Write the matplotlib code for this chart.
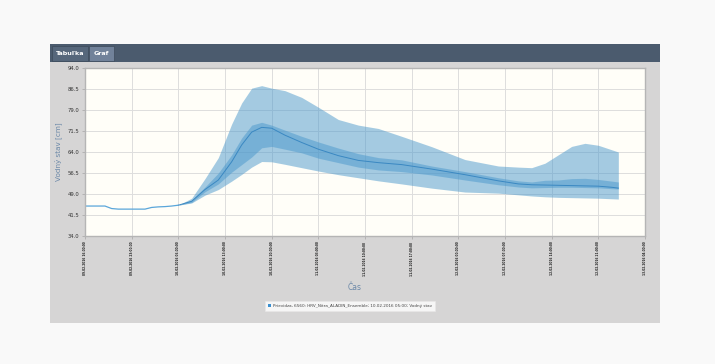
import numpy as np
import matplotlib.pyplot as plt
from matplotlib.patches import Rectangle, Patch

# ---------------------------------------------------------
# Data (hours from 09.02.2016 16:00)
# ---------------------------------------------------------
obs_hours = [0, 1, 2, 3, 4, 5, 6, 7, 8, 9, 10, 11, 12, 13, 14]
obs_level = [44.7, 44.7, 44.7, 44.7, 43.8, 43.6, 43.6, 43.6, 43.6, 43.6, 44.2, 44.4, 44.5, 44.7, 45.0]

fc_hours = [14, 16, 18, 20, 22, 23.5, 25, 26.5, 28, 30, 32.5, 35, 38, 41, 44, 47.5,
            52, 57, 62, 65, 67, 69, 71, 73, 75, 77, 79, 80]
fc_max = [45.0, 47.5, 54.5, 62.0, 74.0, 81.5, 86.8, 87.7, 86.8, 85.9, 83.5, 80.0, 75.6, 73.6,
          72.4, 69.6, 65.9, 61.3, 59.0, 58.6, 58.4, 60.0, 63.0, 66.0, 67.1, 66.4, 64.8, 64.0]
fc_q75 = [45.0, 46.8, 51.5, 56.5, 63.0, 69.0, 73.6, 74.6, 73.6, 71.8, 69.6, 67.6, 65.4, 63.4,
          62.0, 61.2, 59.0, 57.0, 54.8, 53.7, 53.3, 53.9, 54.0, 54.5, 54.6, 54.2, 53.6, 53.3]
fc_med = [45.0, 46.4, 50.6, 54.0, 60.5, 66.5, 71.1, 72.8, 72.5, 70.0, 67.4, 65.0, 62.7, 61.0,
          60.2, 59.5, 57.9, 55.9, 53.7, 52.6, 52.3, 52.2, 52.1, 52.0, 51.9, 51.8, 51.4, 51.1]
fc_q25 = [45.0, 46.0, 49.8, 52.6, 56.8, 59.5, 62.2, 65.5, 66.0, 65.0, 63.7, 61.8, 60.2, 58.6,
          57.6, 57.0, 55.8, 54.0, 52.3, 51.5, 51.2, 51.3, 51.4, 51.4, 51.3, 51.2, 50.9, 50.8]
fc_min = [45.0, 45.8, 48.6, 50.6, 53.6, 56.0, 58.6, 60.6, 60.5, 59.6, 58.4, 57.2, 55.9, 54.8,
          53.7, 52.6, 51.1, 49.7, 49.3, 48.7, 48.3, 48.0, 47.8, 47.7, 47.6, 47.5, 47.3, 47.2]

tick_hours = [0, 7, 14, 21, 28, 35, 42, 49, 56, 63, 70, 77, 84]
tick_labels = ['09.02.2016 16:00:00', '09.02.2016 23:00:00', '10.02.2016 06:00:00',
               '10.02.2016 13:00:00', '10.02.2016 20:00:00', '11.02.2016 03:00:00',
               '11.02.2016 10:00:00', '11.02.2016 17:00:00', '12.02.2016 00:00:00',
               '12.02.2016 07:00:00', '12.02.2016 14:00:00', '12.02.2016 21:00:00',
               '13.02.2016 04:00:00']
y_ticks = [34.0, 41.5, 49.0, 56.5, 64.0, 71.5, 79.0, 86.5, 94.0]

legend_text = 'Prievidza, 6560: HRV_Nitra_ALADIN_Ensemble; 10.02.2016 05:00; Vodný stav'

# ---------------------------------------------------------
# Page frame
# ---------------------------------------------------------
fig = plt.figure(figsize=(7.15, 3.64), dpi=100)
fig.patch.set_facecolor('#f9f9f9')

# gray panel + dark header with tabs
fig.add_artist(Rectangle((50 / 715, 1 - 323 / 364), 610 / 715, 279 / 364,
                         transform=fig.transFigure, facecolor='#d6d5d5', edgecolor='none', zorder=0))
fig.add_artist(Rectangle((50 / 715, 1 - 62 / 364), 610 / 715, 18 / 364,
                         transform=fig.transFigure, facecolor='#4b5b6e', edgecolor='none', zorder=1))
fig.add_artist(Rectangle((52 / 715, 1 - 61 / 364), 36 / 715, 15 / 364,
                         transform=fig.transFigure, facecolor='#56677b', edgecolor='#3d4b5b',
                         linewidth=0.5, zorder=2))
fig.add_artist(Rectangle((89 / 715, 1 - 61 / 364), 25 / 715, 15 / 364,
                         transform=fig.transFigure, facecolor='#71829a', edgecolor='#3d4b5b',
                         linewidth=0.5, zorder=2))
fig.text(70 / 715, 1 - 53.5 / 364, 'Tabuľka', color='white', fontsize=4.6, ha='center', va='center',
         fontweight='bold', zorder=3)
fig.text(101.5 / 715, 1 - 53.5 / 364, 'Graf', color='white', fontsize=4.6, ha='center', va='center',
         fontweight='bold', zorder=3)

# ---------------------------------------------------------
# Chart
# ---------------------------------------------------------
ax = fig.add_axes([85 / 715, 1 - 236 / 364, 560 / 715, 168 / 364])
ax.set_facecolor('#fffef8')

band_color = '#4a98cc'
ax.fill_between(fc_hours, fc_min, fc_max, color=band_color, alpha=0.5, linewidth=0)
ax.fill_between(fc_hours, fc_q25, fc_q75, color=band_color, alpha=0.5, linewidth=0)
ax.plot(fc_hours, fc_med, color='#3a88c2', linewidth=0.7)
ax.plot(obs_hours, obs_level, color='#5aa6da', linewidth=0.9)

ax.set_xlim(0, 84)
ax.set_ylim(34, 94)
ax.set_xticks(tick_hours)
ax.set_xticklabels(tick_labels, rotation=90, fontsize=2.1, color='#222222', fontweight='bold')
ax.set_yticks(y_ticks)
ax.set_yticklabels([f'{v:.1f}' for v in y_ticks], fontsize=3.8, color='#333333')
ax.tick_params(axis='both', length=2, width=0.4, color='#999999', pad=2)
ax.grid(True, color='#dddddd', linewidth=0.7)
ax.set_axisbelow(True)
for side in ['top', 'right', 'bottom', 'left']:
    ax.spines[side].set_color('#b5b5b5')
    ax.spines[side].set_linewidth(1.0)

ax.set_ylabel('Vodný stav [cm]', fontsize=5.2, color='#6b88a8', labelpad=4)
fig.text(355 / 715, 1 - 287 / 364, 'Čas', fontsize=5.5, color='#6b88a8', ha='center', va='center')

handle = Patch(facecolor='#3a8fd0', edgecolor='none')
leg = fig.legend([handle], [legend_text], loc='center', bbox_to_anchor=(350 / 715, 1 - 306 / 364),
                 fontsize=3.0, frameon=True, fancybox=False, handlelength=0.9, handleheight=0.9,
                 borderpad=0.7, handletextpad=0.5)
leg.get_frame().set_facecolor('white')
leg.get_frame().set_edgecolor('#e8e8e8')
leg.get_frame().set_linewidth(0.5)
for t in leg.get_texts():
    t.set_color('#444444')

plt.savefig('out.png', dpi=100, facecolor=fig.get_facecolor())
